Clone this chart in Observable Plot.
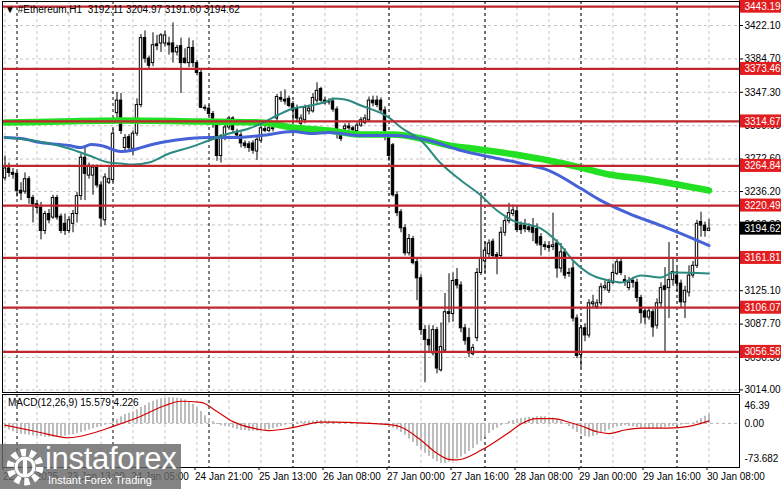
<!DOCTYPE html>
<html><head><meta charset="utf-8">
<script src="https://cdn.jsdelivr.net/npm/d3@7"></script>
<script src="https://cdn.jsdelivr.net/npm/@observablehq/plot@0.6"></script>
<style>
body{margin:0;background:#fff;}
#wrap{position:relative;width:781px;height:489px;overflow:hidden;font-family:"Liberation Sans",Arial,sans-serif;background:#fff;}
#wrap svg{display:block;}
.ov{position:absolute;white-space:pre;color:#000;font-size:10px;line-height:12px;}
#wm{position:absolute;left:0;top:444px;width:181px;height:45px;background:rgba(105,105,105,0.82);color:#fff;}
</style></head><body><div id="wrap"></div>
<script>
// ---- data ----
const open=[3251,3262,3257,3256,3237,3236,3250,3229,3222,3218,
3192,3211,3207,3229,3208,3200,3192,3200,3211,3231,
3274,3254,3254,3263,3243,3204,3246,3249,3324,3338,
3285,3297,3284,3301,3333,3408,3385,3380,3401,3402,
3402,3402,3402,3392,3399,3385,3380,3397,3380,3369,
3330,3329,3323,3312,3276,3296,3308,3318,3303,3299,
3290,3289,3290,3281,3293,3306,3304,3306,3318,3341,
3339,3340,3334,3329,3312,3316,3326,3326,3338,3351,
3338,3337,3337,3328,3299,3306,3309,3307,3304,3310,
3313,3316,3338,3338,3338,3327,3297,3288,3232,3213,
3195,3167,3183,3157,3139,3081,3070,3055,3081,3036,
3058,3101,3099,3137,3131,3083,3072,3054,3072,3145,
3158,3166,3180,3165,3164,3190,3203,3211,3214,3198,
3198,3196,3196,3194,3185,3176,3175,3174,3178,3150,
3168,3145,3150,3094,3053,3083,3075,3110,3107,3111,
3128,3125,3134,3144,3157,3137,3128,3136,3134,3117,
3102,3095,3101,3086,3111,3130,3128,3137,3142,3133,
3112,3123,3142,3153,3202,3198,3192.11];
const high=[3276,3268,3262,3258,3246,3257,3253,3232,3226,3224,
3214,3216,3232,3232,3211,3211,3208,3215,3235,3278,
3285,3268,3266,3266,3247,3256,3263,3306,3347,3346,
3300,3300,3304,3340,3412,3416,3388,3414,3411,3413,
3416,3409,3425,3400,3408,3396,3408,3405,3383,3372,
3333,3333,3326,3316,3300,3312,3320,3320,3306,3302,
3293,3292,3293,3297,3310,3310,3310,3310,3345,3348,
3350,3343,3337,3333,3322,3333,3333,3346,3358,3353,
3342,3340,3340,3331,3303,3312,3313,3309,3313,3319,
3322,3342,3343,3343,3341,3331,3300,3290,3236,3216,
3199,3188,3186,3162,3143,3086,3086,3086,3084,3089,
3122,3144,3145,3150,3135,3087,3083,3065,3150,3235,
3180,3182,3183,3168,3196,3207,3223,3221,3220,3202,
3205,3200,3206,3200,3189,3180,3180,3212,3182,3178,
3172,3150,3157,3098,3086,3088,3115,3120,3115,3133,
3136,3138,3155,3160,3162,3142,3140,3140,3138,3120,
3106,3106,3104,3116,3134,3151,3179,3162,3150,3137,
3130,3153,3158,3204,3213,3202,3204.97];
const low=[3248,3252,3250,3230,3226,3233,3222,3201,3211,3182,
3188,3200,3205,3204,3189,3187,3189,3190,3201,3226,
3226,3250,3232,3240,3196,3198,3244,3246,3316,3300,
3282,3282,3276,3298,3330,3380,3374,3376,3394,3392,
3398,3389,3380,3388,3346,3379,3375,3375,3366,3329,
3326,3320,3307,3270,3268,3293,3305,3302,3295,3285,
3284,3280,3278,3271,3290,3302,3302,3303,3315,3336,
3333,3330,3313,3313,3306,3312,3322,3324,3335,3336,
3333,3333,3325,3295,3292,3303,3304,3302,3301,3308,
3311,3314,3331,3330,3324,3293,3270,3230,3208,3190,
3164,3164,3154,3114,3075,3022,3055,3052,3032,3034,
3055,3089,3090,3127,3078,3064,3050,3052,3068,3142,
3145,3162,3160,3143,3160,3186,3200,3208,3190,3188,
3190,3190,3180,3175,3164,3170,3168,3170,3139,3145,
3138,3140,3090,3049,3039,3068,3072,3105,3104,3108,
3125,3122,3132,3142,3142,3130,3125,3128,3112,3088,
3087,3092,3073,3082,3105,3055,3094,3130,3124,3106,
3094,3118,3139,3150,3185,3185,3191.60];
const close=[3262,3257,3255,3237,3234,3250,3229,3222,3218,3192,
3211,3204,3229,3207,3192,3192,3204,3211,3231,3274,
3256,3265,3263,3243,3206,3252,3250,3301,3338,3304,
3296,3285,3301,3333,3408,3385,3377,3400,3399,3411,
3411,3400,3392,3397,3380,3380,3397,3380,3369,3330,
3329,3323,3318,3276,3298,3308,3318,3305,3299,3290,
3287,3285,3282,3294,3307,3304,3307,3307,3342,3339,
3337,3332,3327,3318,3318,3330,3329,3341,3349,3338,
3335,3336,3328,3306,3295,3309,3307,3305,3310,3316,
3318,3338,3335,3333,3327,3304,3276,3232,3212,3195,
3167,3183,3156,3139,3081,3070,3064,3081,3038,3062,
3101,3099,3136,3131,3083,3069,3055,3061,3145,3161,
3170,3178,3164,3163,3190,3203,3212,3215,3193,3193,
3194,3193,3190,3178,3176,3174,3173,3176,3150,3168,
3142,3144,3094,3052,3083,3075,3111,3112,3111,3129,
3130,3134,3145,3157,3145,3135,3134,3134,3117,3100,
3095,3102,3084,3111,3128,3126,3137,3146,3133,3112,
3125,3142,3153,3200,3198,3192,3194.62];

// moving averages, read at [bar, price]
const maGreen=[[0,3313.5],[14,3314.6],[29,3315.7],[49,3314.6],[64,3313.5],[72,3307.9],[81,3304.5],[89,3300],[97,3300],[104,3295.5],[111,3287.7],[117,3284.3],[129,3276.5],[136,3270.9],[144,3263],[151,3255.2],[159,3250.7],[168,3244],[176,3237.3]];
const maBlue=[[0,3296.6],[4,3295.5],[9,3291],[16,3287.7],[19,3285.4],[21.5,3288.8],[24,3287.7],[29,3281],[31.5,3282.1],[34,3285.4],[39,3291],[46,3295.5],[51,3296.6],[57,3296.6],[64,3298.9],[72,3303.4],[76.5,3301.1],[81,3302.3],[89,3298.9],[97,3298.9],[106,3293.3],[114,3282.1],[122,3274.3],[129,3267.7],[136,3259.7],[144,3239.5],[149,3226],[156,3211.5],[164,3198],[172,3183.5],[176,3175.7]];
const maTeal=[[0,3296.6],[7,3293.3],[16,3284.3],[21,3276.5],[26,3268.6],[29,3267.5],[32,3266.4],[36,3268.6],[41,3278.7],[46,3285.4],[51,3293.3],[56,3301.1],[61,3306.7],[64,3312.3],[68,3321.3],[72,3329.1],[76.5,3332.5],[81,3338.1],[82,3340.3],[85,3339.2],[89,3332.5],[96,3319],[99,3307.9],[104,3293.3],[109,3267.5],[114,3248.5],[119,3231.7],[123,3214.9],[127,3203.7],[134,3194.7],[139,3175.6],[142,3158.9],[146,3144.3],[151,3136.5],[154,3134.3],[159,3142.1],[164,3139.9],[167,3145.5],[176,3144.4]];

const levels=[3443.19,3373.46,3314.67,3264.84,3220.49,3161.81,3106.07,3056.58];
const lastPrice=3194.62;
const priceTicks=[3422.10,3384.70,3347.30,3309.90,3272.60,3236.20,3198.80,3161.40,3125.10,3087.70,3050.30,3014.00];

const macdHist=[-8,-11,-14,-16,-18,-19,-20,-21,-22,-22,
-23,-23,-23,-22,-22,-21,-20,-19,-17,-15,
-13,-11,-9,-7,-5,-3,-1,3,7,11,
15,17,19,23,27,30,34,37,39,41,
42,43,43,42,41,39,36,32,26,20,
13,8,3,-2,-4,-5,-6,-8,-10,-12,
-12,-13,-13,-13,-12,-11,-10,-9,-7,-5,
-3,-1,1,2,3,3,4,4,5,5,
4,4,3,2,1,0,0,0,1,1,
0,1,0,-1,-3,-4,-6,-8,-11,-15,
-20,-26,-32,-38,-44,-50,-55,-60,-64,-67,
-67,-65,-62,-59,-56,-52,-47,-42,-36,-30,
-23,-17,-12,-8,-4,-1,3,5,7,8,
9,10,10,11,11,11,10,9,6,3,
-1,-5,-10,-15,-19,-22,-23,-22,-20,-17,
-14,-11,-8,-6,-5,-4,-5,-6,-7,-8,
-8,-9,-9,-9,-8,-7,-6,-5,-4,-3,
-2,-1,1,4,8,12,15.579];
const macdSignal=[[0,-3],[8,-14],[16,-24],[22,-16],[27,-5],[34,12],[40,30],[44,37],[49,35],[53,20],[57,3],[62,-8],[66,-12],[72,-7],[79,2],[82,2],[91,0],[96,-2],[99,-6],[104,-28],[108,-50],[111,-60],[113,-61],[119,-45],[126,-15],[129,-1],[133,8],[137,8],[141,2],[144,-4],[148,-14],[151,-17],[155,-11],[159,-8],[166,-8],[171,-5],[176,4.226]];

const timeTickBars=[0,16,32,48,64,80,96,112,128,144,160,176];
const timeTickLabels=["22 Jan 2025","23 Jan 13:00","24 Jan 05:00","24 Jan 21:00","25 Jan 13:00","26 Jan 08:00","27 Jan 00:00","27 Jan 16:00","28 Jan 08:00","29 Jan 00:00","29 Jan 16:00","30 Jan 08:00"];
const gridBars=[0,8,16,24,32,40,48,56,64,72,80,88,96,104,112,120,128,136,144,152,160,168,176];
const daySeparators=[3,27,51,72,96,120,144,168];

// ---- layout ----
const idx=d3.range(open.length);
const xDom=[-0.625,183.625];
const FONT="Liberation Sans, Arial, sans-serif";
const yDomMain=[3011.1,3449];
const mainInner=391;
const ppx=(yDomMain[1]-yDomMain[0])/mainInner; // price per pixel
const boxH=6.5*ppx;
const boxX2=xDom[1]+42/4;

const main=Plot.plot({
  width:781,height:393,marginTop:1,marginBottom:1,marginLeft:2,marginRight:42,
  style:{fontFamily:FONT,fontSize:"10px",background:"#fff",overflow:"visible"},
  x:{domain:xDom,axis:null},
  y:{domain:yDomMain},
  marks:[
    Plot.ruleY(priceTicks,{stroke:"#c4c4c4",strokeDasharray:"3,3"}),
    Plot.ruleX(gridBars,{stroke:"#c4c4c4",strokeDasharray:"3,3"}),
    Plot.ruleX(daySeparators,{stroke:"#000",strokeDasharray:"3,3"}),
    Plot.ruleX(idx,{x:i=>i,y1:i=>low[i],y2:i=>high[i],stroke:"#000",strokeWidth:1}),
    Plot.rect(idx,{x1:i=>i-0.3,x2:i=>i+0.3,y1:i=>Math.min(open[i],close[i]),y2:i=>Math.max(open[i],close[i]),fill:i=>close[i]>=open[i]?"#fff":"#000",stroke:"#000",strokeWidth:1}),
    Plot.line(maGreen,{x:d=>d[0],y:d=>d[1],stroke:"#22e022",strokeWidth:6.5,curve:"monotone-x"}),
    Plot.line(maBlue,{x:d=>d[0],y:d=>d[1],stroke:"#4562d6",strokeWidth:3,curve:"monotone-x"}),
    Plot.line(maTeal,{x:d=>d[0],y:d=>d[1],stroke:"#2a8a80",strokeWidth:2,curve:"monotone-x"}),
    Plot.ruleY(levels,{stroke:"#c0262c",strokeWidth:2.2}),
    Plot.axisY(priceTicks,{anchor:"right",tickSize:3,tickPadding:2,tickFormat:d=>d.toFixed(2),fill:"#000",fontSize:10}),
    Plot.rect(levels,{x1:xDom[1],x2:boxX2,y1:d=>d-boxH,y2:d=>d+boxH,fill:"#e21d1f"}),
    Plot.text(levels,{x:xDom[1],y:d=>d,text:d=>d.toFixed(2),dx:5,textAnchor:"start",fill:"#fff",fontSize:10}),
    Plot.rect([lastPrice],{x1:xDom[1],x2:boxX2,y1:d=>d-boxH,y2:d=>d+boxH,fill:"#000"}),
    Plot.text([lastPrice],{x:xDom[1],y:d=>d,text:d=>d.toFixed(2),dx:5,textAnchor:"start",fill:"#fff",fontSize:10}),
    Plot.frame({stroke:"#000"})
  ]
});

const labelMap=new Map(timeTickBars.map((b,i)=>[b,timeTickLabels[i]]));
const macd=Plot.plot({
  width:781,height:96,marginTop:1,marginBottom:22,marginLeft:2,marginRight:42,
  style:{fontFamily:FONT,fontSize:"10px",background:"#fff",overflow:"visible"},
  x:{domain:xDom},
  y:{domain:[-73.682,48.3],axis:null},
  marks:[
    Plot.ruleX(gridBars,{stroke:"#c4c4c4",strokeDasharray:"3,3"}),
    Plot.ruleX(daySeparators,{stroke:"#000",strokeDasharray:"3,3"}),
    Plot.ruleY([0],{stroke:"#b4b4b4",strokeDasharray:"3,3"}),
    Plot.ruleX(idx,{x:i=>i,y1:0,y2:i=>macdHist[i],stroke:"#bdbdbd",strokeWidth:2}),
    Plot.line(macdSignal,{x:d=>d[0],y:d=>d[1],stroke:"#d40000",strokeWidth:1.2,curve:"monotone-x"}),
    Plot.frame({stroke:"#000"}),
    Plot.axisX(timeTickBars,{anchor:"bottom",tickSize:3,tickPadding:2,tickFormat:d=>labelMap.get(d),textAnchor:"start",dx:-2,fill:"#000",fontSize:10}),
    Plot.text(["46.39"],{frameAnchor:"top-right",text:d=>d,dx:5,dy:7,textAnchor:"start",fill:"#000",fontSize:10}),
    Plot.text([0],{x:xDom[1],y:d=>d,text:()=>"0.00",dx:5,textAnchor:"start",fill:"#000",fontSize:10}),
    Plot.text(["-73.682"],{frameAnchor:"bottom-right",text:d=>d,dx:5,dy:-6,textAnchor:"start",fill:"#000",fontSize:10})
  ]
});

const wrap=document.getElementById("wrap");
wrap.appendChild(main);
wrap.appendChild(macd);

const t=document.createElement("div");
t.className="ov";t.style.left="5px";t.style.top="4px";
t.textContent="\u25BC #Ethereum,H1  3192.11 3204.97 3191.60 3194.62";
wrap.appendChild(t);
const m=document.createElement("div");
m.className="ov";m.style.left="8px";m.style.top="397px";
m.textContent="MACD(12,26,9) 15.579 4.226";
wrap.appendChild(m);

const wm=document.createElement("div");
wm.id="wm";
wm.innerHTML='<svg width="42" height="42" style="position:absolute;left:4px;top:2px" viewBox="0 0 40 40">'+
 '<circle cx="20" cy="20" r="14" fill="none" stroke="#fff" stroke-width="7" stroke-dasharray="5 3.8"/>'+
 '<circle cx="20" cy="20" r="8.5" fill="none" stroke="#fff" stroke-width="3"/>'+
 '<rect x="18" y="11" width="4" height="18" fill="#fff"/></svg>'+
 '<div style="position:absolute;left:45px;top:-3px;font-size:31px;font-family:\'Liberation Sans\',Arial,sans-serif;letter-spacing:-0.3px;">instaforex</div>'+
 '<div style="position:absolute;left:48px;top:30px;font-size:11px;font-family:\'Liberation Sans\',Arial,sans-serif;">Instant Forex Trading</div>';
wrap.appendChild(wm);
</script>
</body></html>
